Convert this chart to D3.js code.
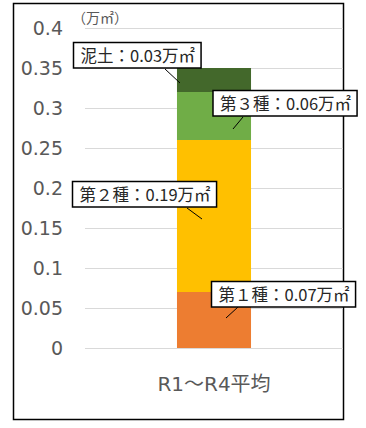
<!DOCTYPE html>
<html>
<head>
<meta charset="utf-8">
<script src="https://cdn.jsdelivr.net/npm/d3@7"></script>
<style>
  body { margin: 0; background: #fff; }
  text { font-family: "Noto Sans CJK JP", "Noto Sans", sans-serif; }
</style>
</head>
<body>
<svg id="chart"></svg>
<script>
// data
const categories = ['R1～R4平均'];
const seriesNames = ['第１種', '第２種', '第３種', '泥土'];
const seriesValues = [0.07, 0.19, 0.06, 0.03];
const seriesColors = ['#ED7D31', '#FFC000', '#70AD47', '#43682B'];
const yTicks = [0, 0.05, 0.1, 0.15, 0.2, 0.25, 0.3, 0.35, 0.4];
const unitLabel = '（万㎡）';

// label box placement, relative to bar centre / segment middle
const labelLayout = [
  {dx: -2.5, dy: -38.5, lx1: 24, ly1: -13, lx2: 12, ly2: -2},
  {dx: -141.5, dy: -34.5, lx1: -27, ly1: -8, lx2: -12, ly2: 3},
  {dx: -1, dy: -25.5, lx1: 29, ly1: 1, lx2: 19, ly2: 13},
  {dx: -140.5, dy: -37.5, lx1: -49, ly1: -11, lx2: -34, ly2: 3}
];

const width = 366, height = 428;
const margin = {top: 28, right: 23, bottom: 80, left: 85};

const svg = d3.select('#chart')
    .attr('width', width)
    .attr('height', height);

// outer frame
svg.append('rect')
    .attr('x', 13.5).attr('y', 3.5)
    .attr('width', 330).attr('height', 416)
    .attr('fill', 'none')
    .attr('stroke', '#000')
    .attr('stroke-width', 1.5);

const yScale = d3.scaleLinear()
    .domain([0, 0.4])
    .range([height - margin.bottom, margin.top]);

const xScale = d3.scaleBand()
    .domain(categories)
    .range([margin.left, width - margin.right])
    .paddingInner(0.554)
    .paddingOuter(0.554);

// gridlines
svg.append('g')
  .selectAll('line')
  .data(yTicks)
  .join('line')
    .attr('x1', margin.left)
    .attr('x2', width - margin.right)
    .attr('y1', d => Math.round(yScale(d)) + 0.5)
    .attr('y2', d => Math.round(yScale(d)) + 0.5)
    .attr('stroke', '#D9D9D9')
    .attr('stroke-width', 1);

// y axis labels
const yAxis = d3.axisLeft(yScale)
    .tickValues(yTicks)
    .tickFormat(d => d3.format('')(+d.toFixed(2)))
    .tickSize(0)
    .tickPadding(22);

const yAxisG = svg.append('g')
    .attr('transform', `translate(${margin.left},0)`)
    .call(yAxis);
yAxisG.select('.domain').remove();
yAxisG.selectAll('text')
    .attr('fill', '#595959')
    .style('font-family', '"DejaVu Sans", sans-serif')
    .style('font-size', '19px');

svg.append('text')
    .attr('x', 72)
    .attr('y', 23)
    .attr('fill', '#595959')
    .style('font-size', '14px')
    .text(unitLabel);

// stacked segments
const stackData = [Object.fromEntries(seriesNames.map((s, i) => [s, seriesValues[i]]))];
stackData[0].cat = categories[0];
const series = d3.stack().keys(seriesNames)(stackData);

const segs = series.map((s, i) => ({
  name: s.key,
  value: seriesValues[i],
  color: seriesColors[i],
  y0: s[0][0],
  y1: s[0][1],
  cat: s[0].data.cat
}));

svg.append('g')
  .selectAll('rect')
  .data(segs)
  .join('rect')
    .attr('x', d => xScale(d.cat))
    .attr('width', xScale.bandwidth())
    .attr('y', d => yScale(d.y1))
    .attr('height', d => yScale(d.y0) - yScale(d.y1))
    .attr('fill', d => d.color);

// x axis label
const xAxis = d3.axisBottom(xScale).tickSize(0).tickPadding(29);
const xAxisG = svg.append('g')
    .attr('transform', `translate(0,${yScale(0)})`)
    .call(xAxis);
xAxisG.select('.domain').remove();
xAxisG.selectAll('text')
    .attr('fill', '#595959')
    .style('font-family', '"DejaVu Sans", "Noto Sans CJK JP", sans-serif')
    .style('font-size', '20px');

// data labels with leader lines
const labels = svg.append('g');
segs.forEach((d, i) => {
  const lay = labelLayout[i];
  const cx = xScale(d.cat) + xScale.bandwidth() / 2;
  const cy = yScale((d.y0 + d.y1) / 2);

  labels.append('line')
      .attr('x1', cx + lay.lx1).attr('y1', cy + lay.ly1)
      .attr('x2', cx + lay.lx2).attr('y2', cy + lay.ly2)
      .attr('stroke', '#000')
      .attr('stroke-width', 1);

  const g = labels.append('g')
      .attr('transform', `translate(${cx + lay.dx},${cy + lay.dy})`);
  const box = g.append('rect')
      .attr('fill', '#fff')
      .attr('stroke', '#000')
      .attr('stroke-width', 1.5);
  const t = g.append('text')
      .attr('x', 7)
      .attr('y', 19)
      .attr('fill', '#262626')
      .style('font-size', '16.5px')
      .text(`${d.name}：${d.value}万㎡`);
  const w = t.node().getComputedTextLength();
  box.attr('width', w + 13).attr('height', 25.5);
});
</script>
</body>
</html>
